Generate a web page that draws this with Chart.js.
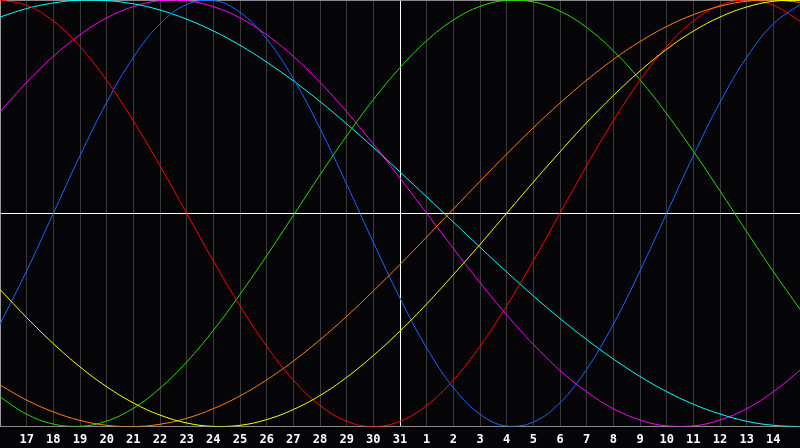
<!DOCTYPE html>
<html>
<head>
<meta charset="utf-8">
<script src="https://cdn.jsdelivr.net/npm/chart.js@4/dist/chart.umd.min.js"></script>
<style>
  html, body { margin: 0; padding: 0; background: #050508; }
  canvas { display: block; }
</style>
</head>
<body>
<canvas id="bioChart" width="800" height="448"></canvas>
<script>
// dias mostrados no eixo (primeiro e ultimo ficam sem rotulo)
const days = ['16', '17', '18', '19', '20', '21', '22', '23', '24', '25', '26', '27', '28', '29', '30', '31',
              '1', '2', '3', '4', '5', '6', '7', '8', '9', '10', '11', '12', '13', '14', '15'];

const redValues = [1.00, 0.975, 0.901, 0.782, 0.623, 0.434, 0.223, 0, -0.223, -0.434, -0.623, -0.782, -0.901, -0.975, -1.00,
                   -0.975, -0.901, -0.782, -0.623, -0.434, -0.223, 0, 0.223, 0.434, 0.623, 0.782, 0.901, 0.975, 1.00, 0.975, 0.901];
const greenValues = [-0.861, -0.942, -0.988, -0.999, -0.974, -0.914, -0.820, -0.697, -0.549, -0.380, -0.199, -0.010, 0.180, 0.363, 0.533,
                     0.683, 0.809, 0.906, 0.970, 0.998, 0.991, 0.948, 0.871, 0.762, 0.626, 0.467, 0.291, 0.105, -0.086, -0.273, -0.450];
const blueValues = [-0.520, -0.270, 0, 0.270, 0.520, 0.731, 0.888, 0.979, 0.998, 0.942, 0.817, 0.631, 0.398, 0.136, -0.136,
                    -0.398, -0.631, -0.817, -0.942, -0.998, -0.979, -0.888, -0.731, -0.520, -0.270, 0, 0.270, 0.520, 0.731, 0.888, 0.979];
const cyanValues = [0.920, 0.960, 0.986, 0.999, 0.997, 0.982, 0.953, 0.910, 0.855, 0.788, 0.709, 0.621, 0.524, 0.419, 0.309,
                    0.194, 0.077, -0.041, -0.159, -0.275, -0.387, -0.493, -0.592, -0.683, -0.765, -0.836, -0.895, -0.941, -0.975, -0.994, -1.00];
const magentaValues = [0.476, 0.614, 0.736, 0.837, 0.916, 0.969, 0.997, 0.997, 0.969, 0.916, 0.837, 0.736, 0.614, 0.476, 0.325,
                       0.165, 0, -0.165, -0.325, -0.476, -0.614, -0.736, -0.837, -0.916, -0.969, -0.997, -0.997, -0.969, -0.916, -0.837, -0.736];
const orangeValues = [-0.805, -0.876, -0.931, -0.971, -0.994, -1.00, -0.989, -0.961, -0.916, -0.856, -0.781, -0.693, -0.593, -0.483, -0.364,
                      -0.240, -0.111, 0.020, 0.150, 0.278, 0.401, 0.517, 0.624, 0.721, 0.805, 0.876, 0.931, 0.971, 0.994, 1.00, 0.989];
const yellowValues = [-0.357, -0.489, -0.611, -0.720, -0.813, -0.889, -0.946, -0.983, -0.999, -0.994, -0.967, -0.920, -0.854, -0.769, -0.667,
                      -0.552, -0.425, -0.288, -0.146, 0, 0.146, 0.288, 0.425, 0.552, 0.667, 0.769, 0.854, 0.920, 0.967, 0.994, 0.999];

const todayIndex = 15;

function serie(values, color) {
    return {
        data: values,
        borderColor: color,
        borderWidth: 1,
        pointRadius: 0,
        pointHoverRadius: 0,
        tension: 0.4,
        fill: false
    };
}

function gridColor(c) {
    if (c.index === todayIndex) return '#ffffff';
    if (c.index === 0 || c.index === days.length - 1) return '#9a9a9a';
    return '#3a3a3a';
}

const ctx = document.getElementById('bioChart').getContext('2d');
const bioChart = new Chart(ctx, {
    type: 'line',
    data: {
        labels: days,
        datasets: [
            serie(yellowValues, '#ffff00'),
            serie(orangeValues, '#ff8000'),
            serie(redValues, '#ff0000'),
            serie(greenValues, '#22e000'),
            serie(blueValues, '#1a66ff'),
            serie(cyanValues, '#00ffff'),
            serie(magentaValues, '#ff00ff')
        ]
    },
    options: {
        responsive: false,
        animation: false,
        devicePixelRatio: 1,
        layout: { autoPadding: false, padding: { left: 0, right: 0, top: 0, bottom: 1 } },
        plugins: {
            legend: { display: false },
            tooltip: { enabled: false }
        },
        scales: {
            x: {
                offset: false,
                border: { color: '#8a8a8a', width: 1 },
                grid: {
                    drawTicks: true,
                    tickLength: 6,
                    tickColor: 'rgba(0,0,0,0)',
                    color: gridColor,
                    lineWidth: 1
                },
                ticks: {
                    color: '#ffffff',
                    padding: 0,
                    autoSkip: false,
                    maxRotation: 0,
                    font: { family: 'DejaVu Sans Mono', size: 12, weight: 'bold' },
                    callback: (v, i) => (i === 0 || i === days.length - 1) ? '' : days[i]
                }
            },
            y: {
                min: -1,
                max: 1,
                border: { color: '#9a9a9a', width: 1 },
                grid: {
                    drawTicks: false,
                    color: (c) => c.tick.value === 0 ? '#ffffff' : '#8a8a8a',
                    lineWidth: 1
                },
                ticks: { display: false, stepSize: 1, padding: 0 }
            }
        }
    }
});
</script>
</body>
</html>
